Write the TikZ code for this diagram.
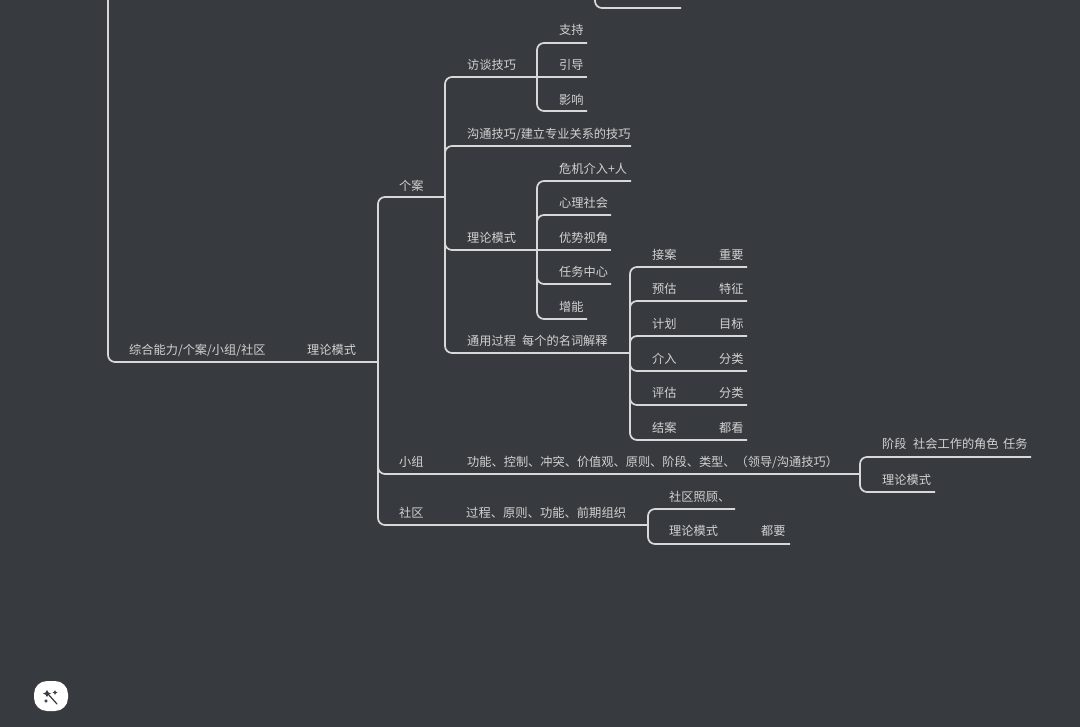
\documentclass[tikz,border=0pt]{standalone}
\usepackage{fontspec}
\newfontfamily\cjk{Noto Sans CJK SC}
\definecolor{bgc}{HTML}{373A3E}
\definecolor{linec}{HTML}{D8D8D8}
\definecolor{textc}{HTML}{D2D2D2}
\tikzset{
  lbl/.style={anchor=base west,inner sep=0pt,text=textc,font=\cjk\fontsize{12.2}{14}\selectfont},
  branch/.style={draw=linec,line width=1.7pt,rounded corners=7pt},
  stem/.style={draw=linec,line width=1.7pt},
}
% \twig{fork}{end}: rounded branch from a fork coordinate to the end of its underline
\newcommand{\twig}[2]{\draw[branch] (#1) |- (#2);}
\begin{document}
\begin{tikzpicture}[x=1pt,y=-1pt]
\useasboundingbox (0,0) rectangle (1080,727);
\fill[bgc] (0,0) rectangle (1080,727);
% coordinates
\coordinate (topA) at (108,0);
\coordinate (rootE) at (378,362);
\coordinate (f1) at (378,362);
\coordinate (caseE) at (445,197);
\coordinate (groupE) at (860,474);
\coordinate (commE) at (648,525);
\coordinate (f2) at (445,197);
\coordinate (intE) at (537,77);
\coordinate (commsE) at (631,146);
\coordinate (theoE) at (537,250);
\coordinate (procE) at (630,353);
\coordinate (f3) at (537,77);
\coordinate (s1) at (587,43);
\coordinate (s2) at (587,77);
\coordinate (s3) at (587,111);
\coordinate (f4) at (537,250);
\coordinate (t1) at (631,181);
\coordinate (t2) at (611,215);
\coordinate (t3) at (611,250);
\coordinate (t4) at (611,284);
\coordinate (t5) at (587,319);
\coordinate (f5) at (630,353);
\coordinate (p1) at (747,267);
\coordinate (p2) at (747,301);
\coordinate (p3) at (747,336);
\coordinate (p4) at (747,371);
\coordinate (p5) at (747,405);
\coordinate (p6) at (747,440);
\coordinate (g1) at (1031,457);
\coordinate (g2) at (935,492);
\coordinate (c1) at (735,509);
\coordinate (c2) at (790,544);
\coordinate (topB) at (595,0);
\coordinate (topBE) at (681,8);
% connectors
\twig{topA}{rootE}
\twig{f1}{caseE}
\twig{f1}{groupE}
\twig{f1}{commE}
\twig{f2}{intE}
\twig{f2}{commsE}
\twig{f2}{theoE}
\twig{f2}{procE}
\twig{f3}{s1}
\draw[stem] (f3) -- (s2);
\twig{f3}{s3}
\twig{f4}{t1}\twig{f4}{t2}
\draw[stem] (f4) -- (t3);
\twig{f4}{t4}\twig{f4}{t5}
\twig{f5}{p1}\twig{f5}{p2}\twig{f5}{p3}\twig{f5}{p4}\twig{f5}{p5}\twig{f5}{p6}
\twig{groupE}{g1}\twig{groupE}{g2}
\twig{commE}{c1}\twig{commE}{c2}
\twig{topB}{topBE}
% labels
\node[lbl] (n1) at (129,355) {综合能力/个案/小组/社区};
\node[lbl] (n2) at (307,355) {理论模式};
\node[lbl] (n3) at (399,191) {个案};
\node[lbl] (n4) at (399,467) {小组};
\node[lbl] (n5) at (399,518) {社区};
\node[lbl] (n6) at (467,70) {访谈技巧};
\node[lbl] (n7) at (467,139) {沟通技巧/建立专业关系的技巧};
\node[lbl] (n8) at (467,243) {理论模式};
\node[lbl] (n9) at (467,346) {通用过程};
\node[lbl] (n10) at (522,346) {每个的名词解释};
\node[lbl] (a1) at (559,35) {支持};
\node[lbl] (a2) at (559,70) {引导};
\node[lbl] (a3) at (559,105) {影响};
\node[lbl] (b1) at (559,174) {危机介入+人};
\node[lbl] (b2) at (559,208) {心理社会};
\node[lbl] (b3) at (559,243) {优势视角};
\node[lbl] (b4) at (559,277) {任务中心};
\node[lbl] (b5) at (559,312) {增能};
\node[lbl] (d1) at (652,260) {接案};
\node[lbl] (d2) at (652,294) {预估};
\node[lbl] (d3) at (652,329) {计划};
\node[lbl] (d4) at (652,364) {介入};
\node[lbl] (d5) at (652,398) {评估};
\node[lbl] (d6) at (652,432) {结案};
\node[lbl] (e1) at (719,260) {重要};
\node[lbl] (e2) at (719,294) {特征};
\node[lbl] (e3) at (719,329) {目标};
\node[lbl] (e4) at (719,364) {分类};
\node[lbl] (e5) at (719,398) {分类};
\node[lbl] (e6) at (719,432) {都看};
\node[lbl] (h1) at (467,467) {功能、控制、冲突、价值观、原则、阶段、类型、（领导/沟通技巧）};
\node[lbl,font=\cjk\fontsize{12.3}{14}\selectfont] (h2) at (466,518) {过程、原则、功能、前期组织};
\node[lbl] (i1) at (882,449) {阶段};
\node[lbl] (i2) at (913,449) {社会工作的角色};
\node[lbl] (i3) at (1003,449) {任务};
\node[lbl] (i4) at (882,484) {理论模式};
\node[lbl] (j1) at (669,501) {社区照顾、};
\node[lbl] (j2) at (669,535) {理论模式};
\node[lbl] (j3) at (761,535) {都要};
% wand button
\fill[white,rounded corners=13pt] (34,681) rectangle (68,711);
\draw[bgc,line width=1.2pt,line cap=round] (48,694) -- (57,704);
\fill[bgc] (47,690) -- (48.5,692.5) -- (51,693.5) -- (48.5,694.5) -- (47,697) -- (45.5,694.5) -- (43,693.5) -- (45.5,692.5) -- cycle;
\fill[bgc] (55,690) -- (55.8,691.7) -- (57.5,692.5) -- (55.8,693.3) -- (55,695) -- (54.2,693.3) -- (52.5,692.5) -- (54.2,691.7) -- cycle;
\fill[bgc] (46,699) -- (46.7,700.3) -- (48,701) -- (46.7,701.7) -- (46,703) -- (45.3,701.7) -- (44,701) -- (45.3,700.3) -- cycle;
\end{tikzpicture}
\end{document}
